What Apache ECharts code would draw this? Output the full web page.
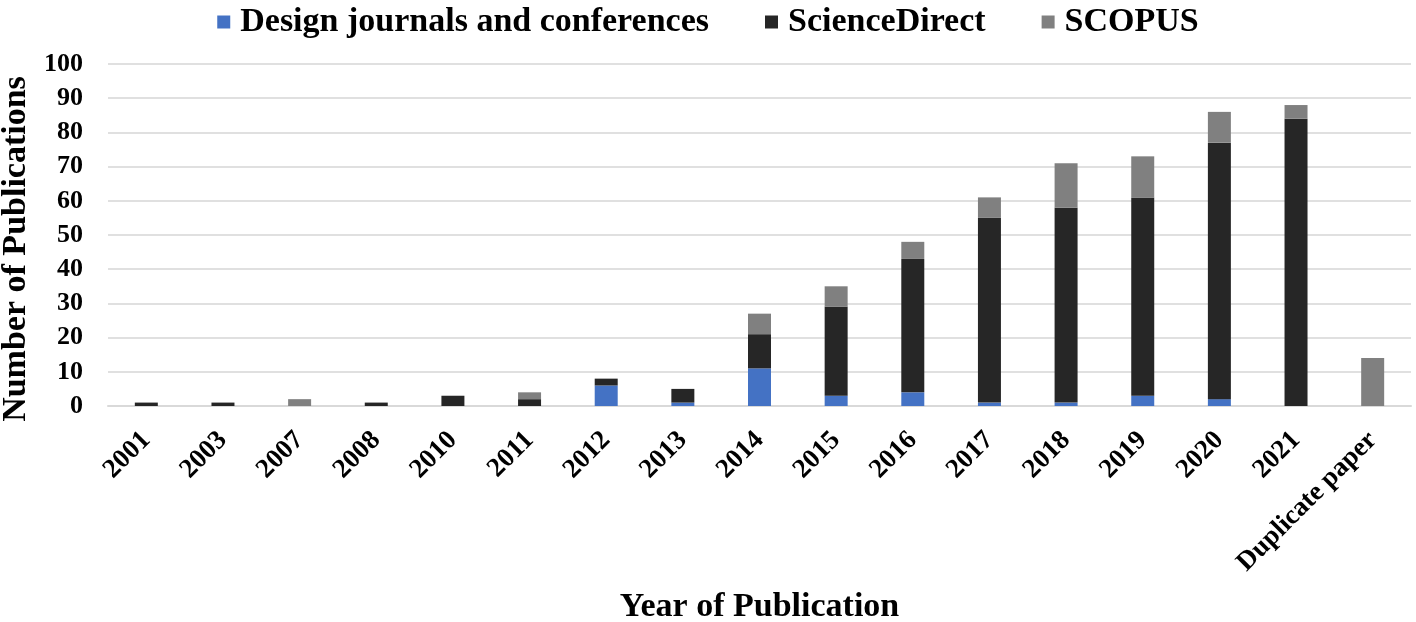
<!DOCTYPE html>
<html><head><meta charset="utf-8">
<script src="https://cdn.jsdelivr.net/npm/echarts@6/dist/echarts.min.js"></script>
<style>html,body{margin:0;padding:0;background:#fff}#c{width:1416px;height:622px}</style>
</head><body><div id="c"></div>
<script>
var categories = ['2001','2003','2007','2008','2010','2011','2012','2013','2014','2015','2016','2017','2018','2019','2020','2021','Duplicate paper'];
var designJournals = [0,0,0,0,0,0,6,1,11,3,4,1,1,3,2,0,0];
var scienceDirect = [1,1,0,1,3,2,2,4,10,26,39,54,57,58,75,84,0];
var scopus = [0,0,2,0,0,2,0,0,6,6,5,6,13,12,9,4,14];
var yTicks = [0,10,20,30,40,50,60,70,80,90,100];

var font = '"Liberation Serif", "Times New Roman", serif';
var chart = echarts.init(document.getElementById('c'));
function ser(name, data, color) {
  return {name: name, type: 'bar', stack: 's', data: data, barWidth: '30%',
    itemStyle: {color: color}};
}
chart.setOption({
  animation: false,
  textStyle: {fontFamily: font},
  legend: {
    top: 0, left: 'center', itemWidth: 13, itemHeight: 13, itemGap: 56, icon: 'rect',
    textStyle: {fontFamily: font, fontWeight: 'bold', fontSize: 34, color: '#000', padding: [0,0,0,5]},
    data: ['Design journals and conferences','ScienceDirect','SCOPUS']
  },
  grid: {left: 108, right: 5, top: 64, bottom: 216, containLabel: false, outerBoundsMode: 'none'},
  xAxis: {
    type: 'category', data: categories,
    axisLine: {lineStyle: {color: '#d9d9d9', width: 2}},
    axisTick: {show: false},
    axisLabel: {rotate: 45, interval: 0, margin: 30, fontFamily: font, fontWeight: 'bold', fontSize: 27, color: '#000'},
    name: 'Year of Publication', nameLocation: 'middle', nameGap: 184,
    nameTextStyle: {fontFamily: font, fontWeight: 'bold', fontSize: 34, color: '#000'}
  },
  yAxis: {
    type: 'value', min: 0, max: 100, interval: 10,
    axisLine: {show: false}, axisTick: {show: false},
    splitLine: {lineStyle: {color: '#e0e0e0', width: 2}},
    axisLabel: {margin: 25, fontFamily: font, fontWeight: 'bold', fontSize: 26, color: '#000',
      formatter: function(v){ return yTicks.indexOf(v) >= 0 ? String(v) : ''; }},
    name: 'Number of Publications', nameLocation: 'middle', nameGap: 73, nameRotate: 90,
    nameTextStyle: {fontFamily: font, fontWeight: 'bold', fontSize: 34, color: '#000', padding: [0, 28, 0, 0]}
  },
  series: [
    ser('Design journals and conferences', designJournals, '#4472C4'),
    ser('ScienceDirect', scienceDirect, '#262626'),
    ser('SCOPUS', scopus, '#808080')
  ]
});
</script></body></html>
